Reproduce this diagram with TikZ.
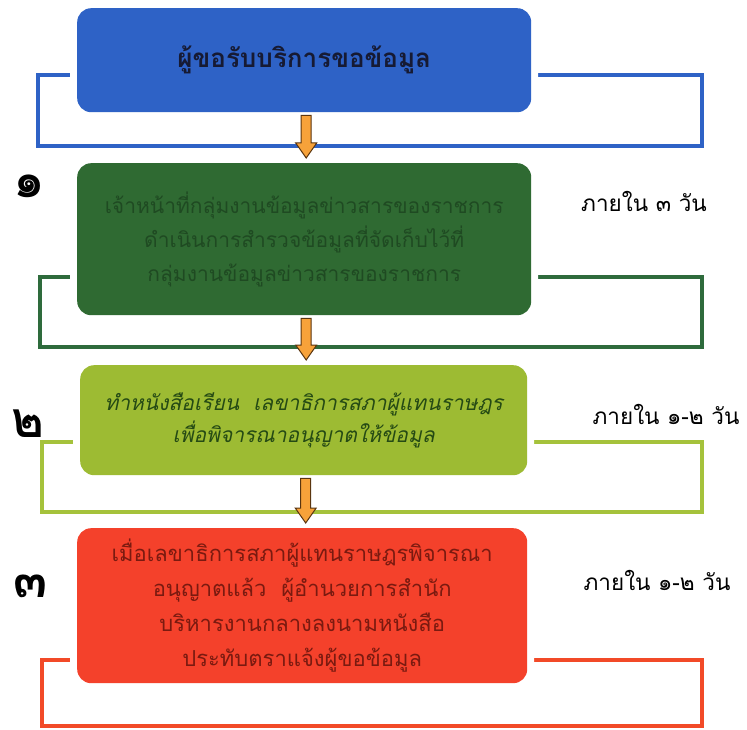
\documentclass[tikz,border=0pt]{standalone}
\usepackage{fontspec}
\newfontfamily\thai[Script=Thai]{Loma}
\usetikzlibrary{calc}
\definecolor{blueF}{HTML}{2E62C6}
\definecolor{blueT}{HTML}{161A33}
\definecolor{dgreenF}{HTML}{2F6A32}
\definecolor{dgreenT}{HTML}{1F4A22}
\definecolor{dgreenL}{HTML}{2E6B3C}
\definecolor{lgreenF}{HTML}{9DBB33}
\definecolor{lgreenT}{HTML}{254A14}
\definecolor{lgreenL}{HTML}{A5C23B}
\definecolor{redF}{HTML}{F4412B}
\definecolor{redT}{HTML}{7A1A10}
\definecolor{redL}{HTML}{F24A28}
\definecolor{arrF}{HTML}{F7A23A}
\definecolor{arrD}{HTML}{5A3510}
\tikzset{
  stepbox/.style={rounded corners=14pt, anchor=north west, inner sep=0pt,
    align=center, preaction={draw=white, line width=14pt}},
  frameline/.style={line width=3.6pt, line join=miter},
  flowarrow/.style={fill=arrF, draw=arrD, line width=1pt, line join=miter},
  numlabel/.style={font=\thai\bfseries\fontsize{50}{50}\selectfont, text=black},
  timelabel/.style={font=\thai\fontsize{22.5}{24}\selectfont, text=black},
}
\begin{document}
\begin{tikzpicture}[x=1pt,y=-1pt]
\useasboundingbox (0,0) rectangle (747,730);
% frames
\draw[frameline, draw=blueF] (38,75) rectangle (702,146);
\draw[frameline, draw=dgreenL] (40,277) rectangle (702,347);
\draw[frameline, draw=lgreenL] (42,442) rectangle (702,512);
\draw[frameline, draw=redL] (42,660) rectangle (702,726);
% boxes
\node[stepbox, fill=blueF, minimum width=454pt, minimum height=104pt,
  font=\thai\bfseries\fontsize{26}{30}\selectfont, text=blueT] (b1) at (77,8)
  {ผู้ขอรับบริการขอข้อมูล};
\node[stepbox, fill=dgreenF, minimum width=454pt, minimum height=152pt,
  font=\thai\fontsize{21}{34}\selectfont, text=dgreenT] (b2) at (77,163)
  {เจ้าหน้าที่กลุ่มงานข้อมูลข่าวสารของราชการ\\ดำเนินการสำรวจข้อมูลที่จัดเก็บไว้ที่\\กลุ่มงานข้อมูลข่าวสารของราชการ};
\node[stepbox, fill=lgreenF, minimum width=447pt, minimum height=110pt,
  font=\thai\itshape\fontsize{21}{32}\selectfont, text=lgreenT] (b3) at (80,365)
  {ทำหนังสือเรียน\ \ เลขาธิการสภาผู้แทนราษฎร\\เพื่อพิจารณาอนุญาตให้ข้อมูล};
\node[stepbox, fill=redF, minimum width=450pt, minimum height=155pt,
  font=\thai\fontsize{22}{35}\selectfont, text=redT] (b4) at (77,528)
  {เมื่อเลขาธิการสภาผู้แทนราษฎรพิจารณา\\อนุญาตแล้ว\ \ ผู้อำนวยการสำนัก\\บริหารงานกลางลงนามหนังสือ\\ประทับตราแจ้งผู้ขอข้อมูล};
% arrows
\foreach \a/\b in {b1/b2, b2/b3, b3/b4}{
  \draw[flowarrow] let \p1=($(\a.south)+(2,3)$), \p2=($(\b.north)+(2,-5)$) in
    (\x1-5pt,\y1) -- (\x1-5pt,\y2+15pt) -- (\x1-10.5pt,\y2+15pt) -- (\x1,\y2)
    -- (\x1+10.5pt,\y2+15pt) -- (\x1+5pt,\y2+15pt) -- (\x1+5pt,\y1) -- cycle;
}
% numbers
\node[numlabel] (n1) at (29,186) {๑};
\node[numlabel] (n2) at (28,424) {๒};
\node[numlabel] (n3) at (31,586) {๓};
% durations
\node[timelabel] (t1) at (644,201) {ภายใน ๓ วัน};
\node[timelabel] (t2) at (666,414) {ภายใน ๑-๒ วัน};
\node[timelabel] (t3) at (657,580) {ภายใน ๑-๒ วัน};
\end{tikzpicture}
\end{document}
